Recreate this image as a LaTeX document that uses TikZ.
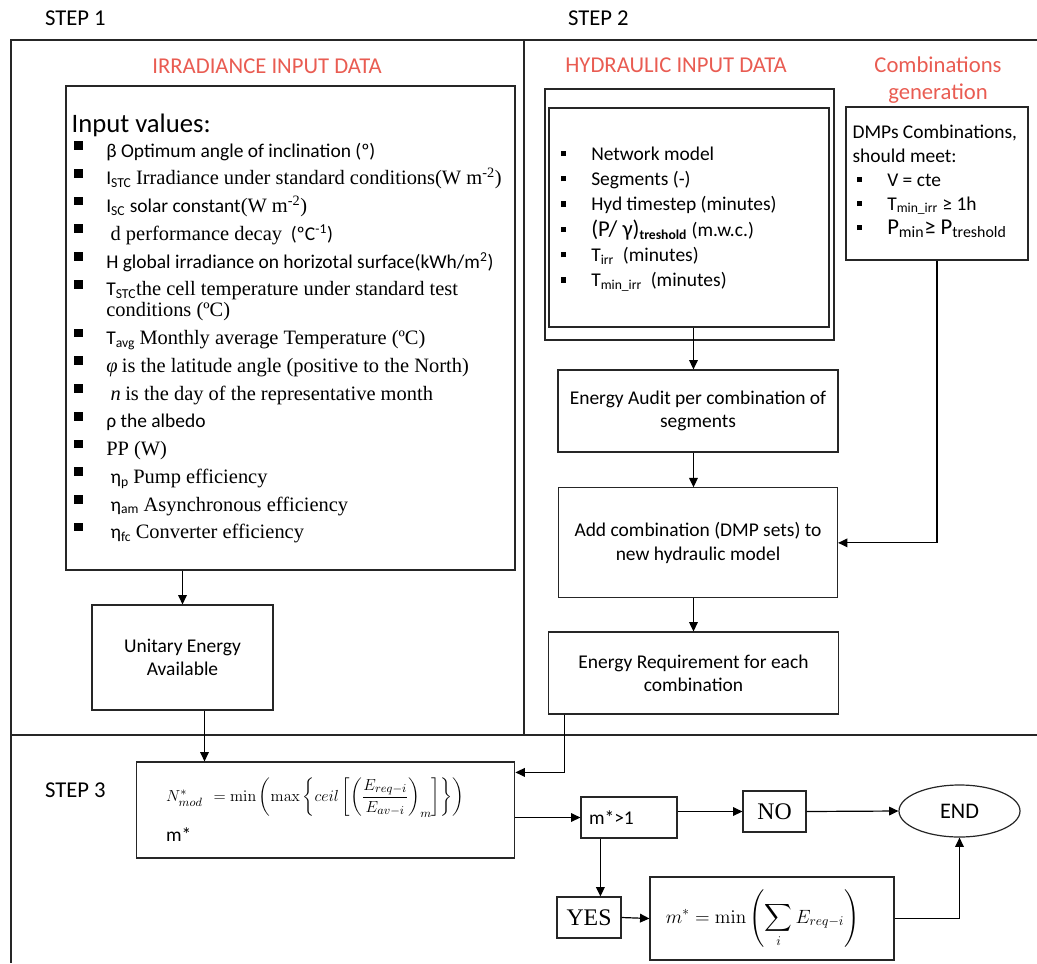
\documentclass[tikz,border=0pt]{standalone}
\usepackage{amsmath}
\usepackage[no-math]{fontspec}
\setmainfont{Carlito}
\newfontfamily\camb[Scale=1.05]{Liberation Serif}
\usetikzlibrary{shapes, arrows.meta, positioning}
\definecolor{titlered}{RGB}{233,92,82}
\newcommand{\bigsq}{\makebox[26pt][l]{\hspace{2pt}\rule[5.5pt]{6.5pt}{6.5pt}}}
\newcommand{\smsq}{\makebox[26pt][l]{\hspace{3pt}\rule[3pt]{4pt}{4pt}}}

\begin{document}
\begin{tikzpicture}[
    x=0.75pt, y=-0.75pt,
    font=\fontsize{14.6}{17.5}\selectfont,
    line width=0.9pt,
    node distance=25pt,
    box/.style={draw=black!85, align=center, inner sep=4pt},
    title/.style={text=titlered, font=\fontsize{17}{20}\selectfont, align=center},
    steplbl/.style={anchor=west, font=\fontsize{17}{20}\selectfont},
    answer/.style={box, minimum height=30.75pt, font=\camb\fontsize{17}{20}\selectfont},
    arr/.style={-{Triangle[length=7pt, width=6.5pt]}}
]
\useasboundingbox (0,0) rectangle (1037,963);

% frame of the three steps
\draw[black!85] (1037,40) -- (11,40) -- (11,963);
\draw[black!85] (524,40) -- (524,735);
\draw[black!85] (11,735) -- (1037,735);

\node[steplbl] (step1) at (40,18) {STEP 1};
\node[steplbl] (step2) at (563,18) {STEP 2};
\node[steplbl] (step3) at (40,790) {STEP 3};

\node[title] (irrtitle) at (267,66) {IRRADIANCE INPUT DATA};
\node[title] (hydtitle) at (676,65) {HYDRAULIC INPUT DATA};
\node[title] (combtitle) at (938,80) {Combinations\\generation};

% step 1
\node[box, minimum width=336.75pt, minimum height=363pt] (irr) at (290.5,328) {};
\node[anchor=north west, align=left, inner sep=0pt, font=\fontsize{14.6}{20.8}\selectfont] (irrlist) at (71,113) {%
{\fontsize{20}{24}\selectfont Input values:}\\[-2pt]
\bigsq β Optimum angle of inclination (º)\\
\bigsq I\textsubscript{STC} {\camb Irradiance under standard conditions(W m\textsuperscript{-2})}\\
\bigsq I\textsubscript{SC} solar constant{\camb (W m\textsuperscript{-2})}\\
\bigsq \ {\camb d performance decay}\ \ (ºC\textsuperscript{-1})\\
\bigsq H global irradiance on horizotal surface(kWh/m\textsuperscript{2})\\
\bigsq T\textsubscript{STC}{\camb the cell temperature under standard test}\\[-5pt]
\hspace*{26pt}{\camb conditions (ºC)}\\
\bigsq T\textsubscript{avg}\ {\camb Monthly average Temperature (ºC)}\\
\bigsq {\camb\itshape φ} {\camb is the latitude angle (positive to the North)}\\
\bigsq \ {\camb\itshape n} {\camb is the day of the representative month}\\
\bigsq ρ the albedo\\
\bigsq {\camb PP (W)}\\
\bigsq \ η\textsubscript{p} {\camb Pump efficiency}\\
\bigsq \ η\textsubscript{am}\ {\camb Asynchronous efficiency}\\
\bigsq \ η\textsubscript{fc} {\camb Converter efficiency}};
\node[box, minimum width=135.75pt, minimum height=78.75pt] (unit) at (182.5,657.5) {Unitary Energy\\Available};

% step 2
\node[box, minimum width=216.75pt, minimum height=188.25pt] (hydout) at (689.5,214.5) {};
\node[box, minimum width=210pt, minimum height=164.25pt] (hydin) at (689,217.5) {};
\node[anchor=north west, align=left, inner sep=0pt, font=\fontsize{14.6}{19}\selectfont] (hydlist) at (556,146) {%
\smsq Network model\\
\smsq Segments (-)\\
\smsq Hyd timestep (minutes)\\
\smsq {\fontsize{17}{19}\selectfont (P/ γ)}\textsubscript{\bfseries treshold} (m.w.c.)\\
\smsq T\textsubscript{irr}\ \ (minutes)\\
\smsq T\textsubscript{min\_irr}\ \ (minutes)};
\node[box, minimum width=136.5pt, minimum height=114.75pt] (comb) at (937,183.5) {};
\node[anchor=north west, align=left, inner sep=0pt, font=\fontsize{14.6}{18}\selectfont] (comblist) at (852,124) {%
DMPs Combinations,\\
should meet:\\
\smsq V = cte\\
\smsq T\textsubscript{min\_irr} ≥ 1h\\
\smsq {\fontsize{17}{18}\selectfont P\textsubscript{min}≥ P\textsubscript{treshold}}};
\node[box, minimum width=210pt, minimum height=61.5pt] (audit) at (698,411) {Energy Audit per combination of\\segments};
\node[box, minimum width=209.25pt, minimum height=82.5pt, below=26pt of audit] (addc) {Add combination (DMP sets) to\\new hydraulic model};
\node[box, minimum width=217.5pt, minimum height=61.5pt, below=24.75pt of addc, xshift=-3.4pt] (ereq) {Energy Requirement for each\\combination};

% step 3
\node[box, align=left, text width=239pt, minimum height=72pt, inner xsep=22.5pt] (nmod) at (325.5,810)
  {{\fontsize{12.5}{16}\selectfont\mbox{$N^{*}_{mod}\ = \min\left(\max\left\{ceil\left[\left(\dfrac{E_{req-i}}{E_{av-i}}\right)_{m}\right]\right\}\right)$}}\\[7pt] m*};
\node[box, align=left, text width=60pt, inner xsep=6pt, minimum height=30.75pt] (mcheck) at (629,817.5) {m*>1};
\node[answer, minimum width=47.25pt] (no) at (774.5,811.5) {NO};
\node[draw=black!85, ellipse, minimum width=90.75pt, minimum height=39pt, font=\fontsize{16.7}{20}\selectfont] (end) at (959.5,811) {END};
\node[answer, minimum width=48pt] (yes) at (589,917.5) {YES};
\node[box, minimum width=183pt, minimum height=62.25pt] (mmin) at (772,918.5)
  {{\fontsize{14}{16}\selectfont$\displaystyle m^{*} = \min\left(\sum_{i} E_{req-i}\right)$}\hspace*{14pt}};

\draw[arr] (irr.south -| unit.north) -- (unit.north);
\draw[arr] ([xshift=16.5pt]unit.south) -- ([xshift=16.5pt]unit.south |- nmod.north);
\draw[arr] (hydin.south -| ereq.north) -- (audit.north -| ereq.north);
\draw[arr] (audit.south -| ereq.north) -- (addc.north -| ereq.north);
\draw[arr] (addc.south -| ereq.north) -- (ereq.north);
\draw[arr] (comb.south) |- (addc.east);
\draw[arr] ([xshift=12.75pt]ereq.south west) |- ([yshift=-8.25pt]nmod.north east);
\draw[arr] (nmod.east |- mcheck.west) -- (mcheck.west);
\draw[arr] (mcheck.east |- no.west) -- (no.west);
\draw[arr] (no.east) -- (end.west);
\draw[arr] ([xshift=15pt]mcheck.south west) -- ([xshift=15pt]mcheck.south west |- yes.north);
\draw[arr] (yes.east) -- (mmin.west);
\draw[arr] (mmin.east) -| (end.south);
\end{tikzpicture}
\end{document}
